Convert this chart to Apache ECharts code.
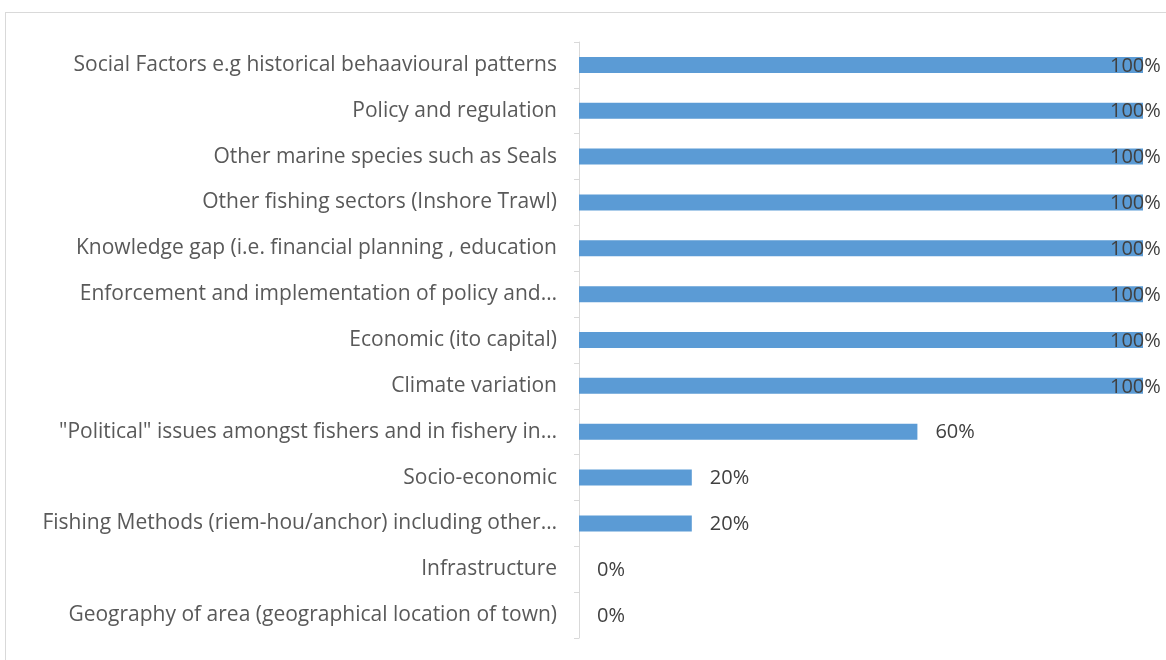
<!DOCTYPE html>
<html>
<head>
<meta charset="utf-8">
<script src="https://cdn.jsdelivr.net/npm/echarts@6/dist/echarts.min.js"></script>
<style>
  html, body { margin: 0; padding: 0; background: #fff; }
  #frame { position: absolute; left: 5px; top: 12px; width: 1170px; height: 660px; border: 1px solid #d9d9d9; box-sizing: border-box; }
  #chart { position: absolute; left: 0; top: 0; width: 1166px; height: 660px; }
</style>
</head>
<body>
<div id="frame"></div>
<div id="chart"></div>
<script>
// Categories listed bottom to top (category axis starts at the bottom)
const categories = [
  'Geography of area (geographical location of town)',
  'Infrastructure',
  'Fishing Methods (riem-hou/anchor) including other…',
  'Socio-economic',
  '"Political" issues amongst fishers and in fishery in…',
  'Climate variation',
  'Economic (ito capital)',
  'Enforcement and implementation of policy and…',
  'Knowledge gap (i.e. financial planning , education',
  'Other fishing sectors (Inshore Trawl)',
  'Other marine species such as Seals',
  'Policy and regulation',
  'Social Factors e.g historical behaavioural patterns'
];
const percentValues = [0, 0, 20, 20, 60, 100, 100, 100, 100, 100, 100, 100, 100];

const FONT = '"Open Sans"';

const chart = echarts.init(document.getElementById('chart'), null, { renderer: 'canvas' });

chart.setOption({
  animation: false,
  grid: { left: 579, right: 23, top: 42, bottom: 22, containLabel: false },
  xAxis: {
    type: 'value',
    min: 0,
    max: 100,
    show: false
  },
  yAxis: {
    type: 'category',
    data: categories,
    axisLine: { show: true, lineStyle: { color: '#d9d9d9', width: 1 } },
    axisTick: { show: true, length: 5, lineStyle: { color: '#d9d9d9' } },
    axisLabel: {
      color: '#595959',
      fontFamily: FONT,
      fontSize: 21,
      margin: 22
    },
    splitLine: { show: false }
  },
  series: [{
    type: 'bar',
    barWidth: 16,
    itemStyle: { color: '#5b9bd5' },
    label: {
      show: true,
      position: 'right',
      distance: 18,
      color: '#404040',
      fontFamily: FONT,
      fontSize: 20,
      formatter: p => p.value + '%'
    },
    // full-length bars: the label is pulled back so it stays inside the chart
    data: percentValues.map(v => v >= 100
      ? { value: v, label: { offset: [-51, 1] } }
      : { value: v, label: { offset: [0, 1] } })
  }]
});
</script>
</body>
</html>
